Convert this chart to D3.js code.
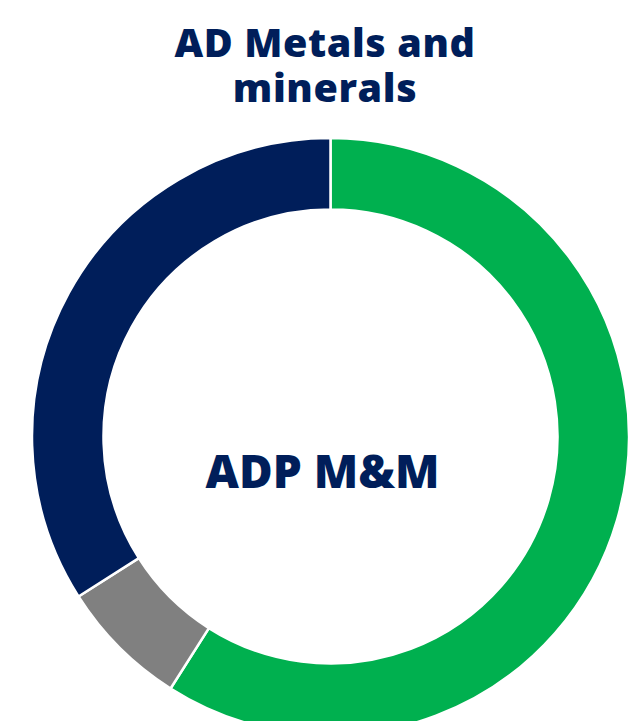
<!DOCTYPE html>
<html>
<head>
<meta charset="utf-8">
<script src="https://cdn.jsdelivr.net/npm/d3@7/dist/d3.min.js"></script>
<style>
  html, body { margin: 0; padding: 0; background: #ffffff; }
  svg { display: block; }
</style>
</head>
<body>
<script>
// Share of metals and minerals, by segment
const categories = ["Green", "Grey", "Navy"];
const values = [59, 7, 34];
const colors = ["#00B04F", "#808080", "#001E5A"];
const titleLines = ["AD Metals and", "minerals"];
const centerLabel = "ADP M&M";

const width = 642, height = 721;
const cx = 330.5, cy = 436.5;
const outerR = 298.5, innerR = 227;

const svg = d3.select("body").append("svg")
  .attr("width", width)
  .attr("height", height);

const navy = "#001E5A";
const font = "'Open Sans', 'Noto Sans', sans-serif";

// Title, two lines in one text block
svg.append("text")
  .attr("text-anchor", "middle")
  .attr("font-family", font)
  .attr("font-weight", 800)
  .attr("font-size", 39.5)
  .attr("letter-spacing", 0.6)
  .attr("fill", navy)
  .selectAll("tspan")
  .data(titleLines)
  .join("tspan")
  .attr("x", 325)
  .attr("y", (d, i) => 57 + i * 45)
  .text(d => d);

// Donut
const pie = d3.pie().sort(null).value(d => d.value);
const arc = d3.arc().innerRadius(innerR).outerRadius(outerR);

const data = categories.map((c, i) => ({ name: c, value: values[i], color: colors[i] }));

svg.append("g")
  .attr("transform", `translate(${cx},${cy})`)
  .selectAll("path")
  .data(pie(data))
  .join("path")
  .attr("d", arc)
  .attr("fill", d => d.data.color)
  .attr("stroke", "#ffffff")
  .attr("stroke-width", 2.5);

// Centre label
svg.append("text")
  .attr("x", 322.5)
  .attr("y", 488)
  .attr("text-anchor", "middle")
  .attr("font-family", font)
  .attr("font-weight", 800)
  .attr("font-size", 46)
  .attr("fill", navy)
  .text(centerLabel);
</script>
</body>
</html>
